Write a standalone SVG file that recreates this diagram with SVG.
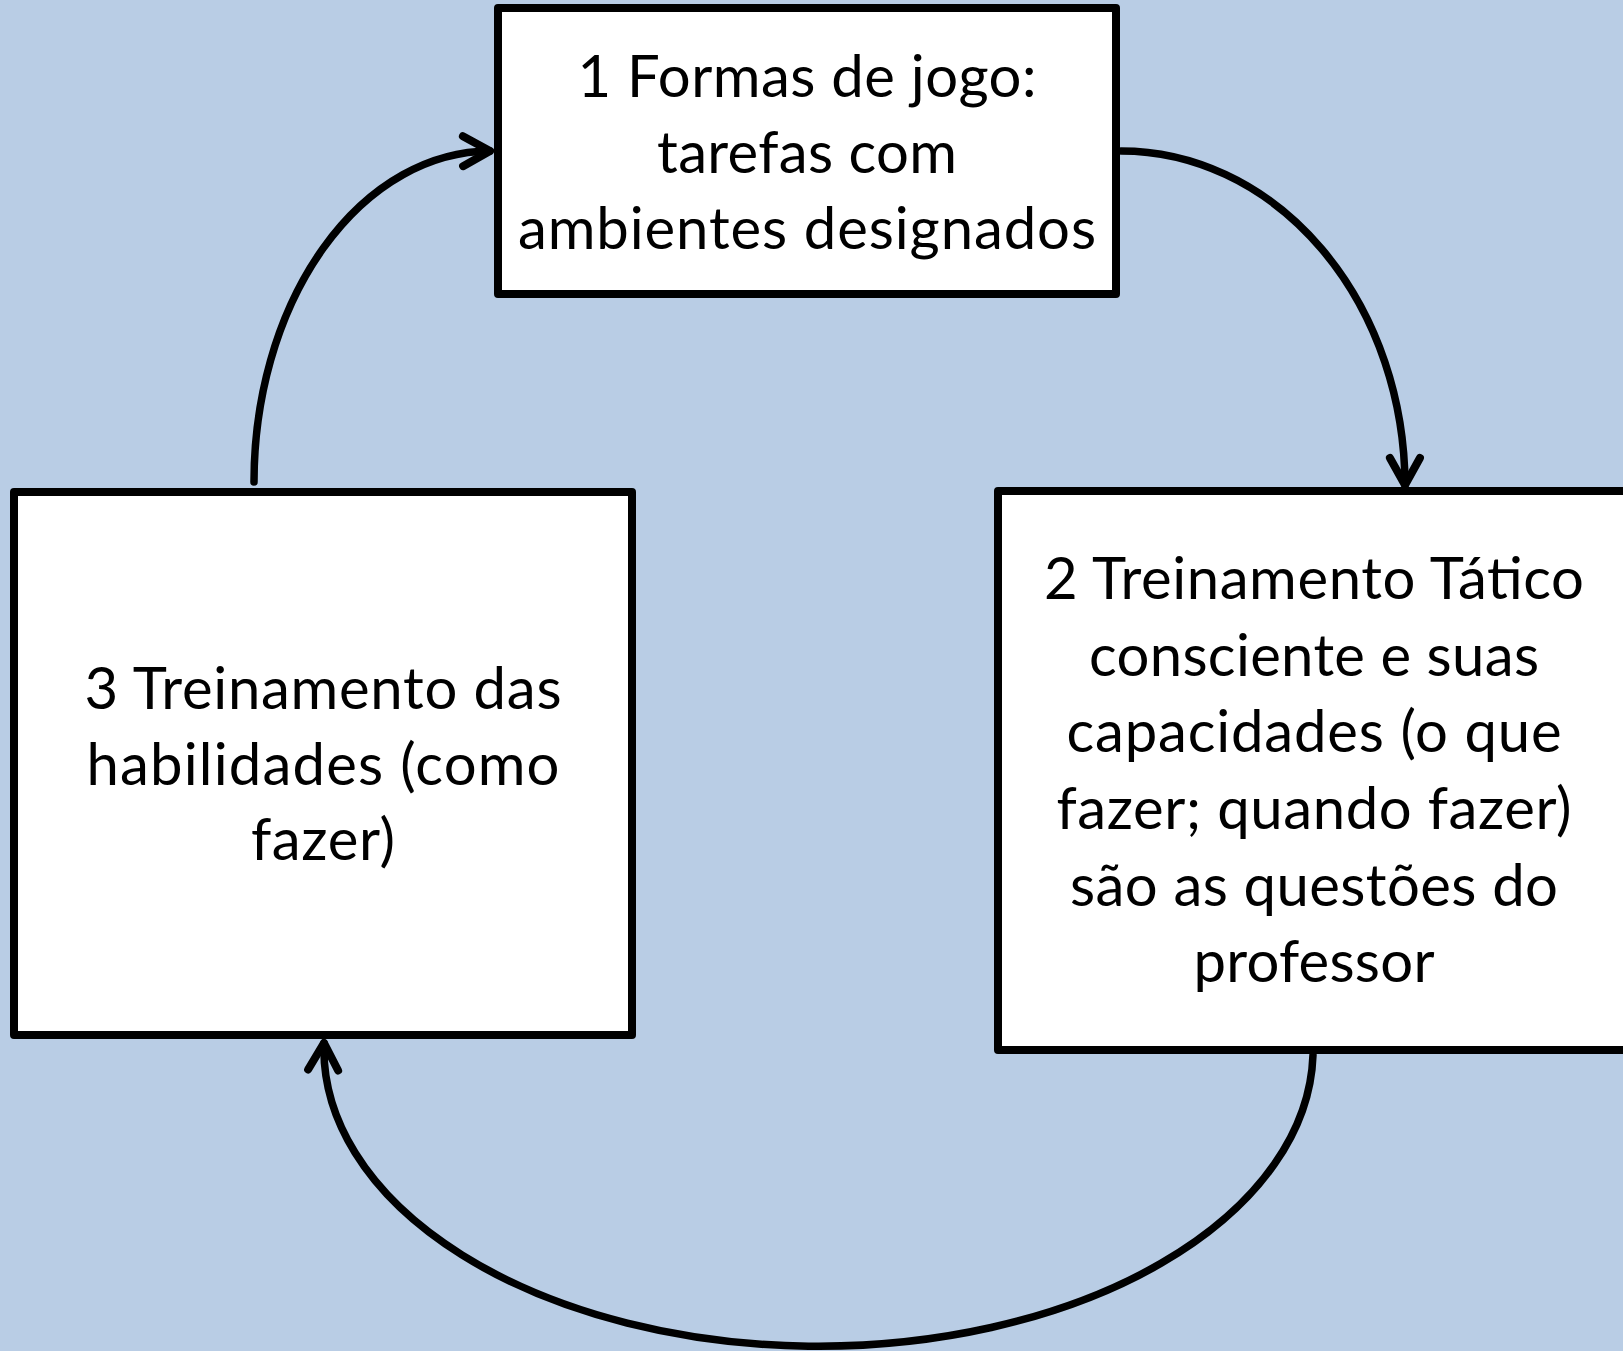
<svg xmlns="http://www.w3.org/2000/svg" width="1623" height="1351" viewBox="0 0 1623 1351">
<style>
.box{fill:#ffffff;stroke:#000000;stroke-width:8;stroke-linejoin:round}
.lbl{font-family:Lato,"Open Sans","Liberation Sans",sans-serif;font-size:58px;fill:#000000;text-anchor:middle}
.conn{fill:none;stroke:#000000;stroke-width:7.5;stroke-linecap:round}
</style>
<defs>
<marker id="arr" markerUnits="userSpaceOnUse" viewBox="-36 -24 44 48" refX="0" refY="0" markerWidth="44" markerHeight="48" orient="auto">
<path d="M -27 -15 L 0 0 L -27 15" fill="none" stroke="#000000" stroke-width="8" stroke-linecap="round" stroke-linejoin="round"/>
</marker>
</defs>
<rect x="0" y="0" width="1623" height="1351" fill="#B9CDE5"/>
<g id="connectors">
<path class="conn" d="M 1121 151 A 284 335 0 0 1 1405 485" marker-end="url(#arr)"/>
<path class="conn" d="M 1313 1055 A 494 297 0 0 1 324 1043" marker-end="url(#arr)"/>
<path class="conn" d="M 254 482 A 237 331 0 0 1 490 151" marker-end="url(#arr)"/>
</g>
<g id="node1">
<rect class="box" x="498" y="8" width="618" height="286"/>
<text class="lbl" x="807" y="97" textLength="459">1 Formas de jogo:</text>
<text class="lbl" x="807" y="173" textLength="300">tarefas com</text>
<text class="lbl" x="807" y="249" textLength="578">ambientes designados</text>
</g>
<g id="node2">
<rect class="box" x="998" y="491" width="640" height="559"/>
<text class="lbl" x="1314" y="599" textLength="540">2 Treinamento Tático</text>
<text class="lbl" x="1314" y="676" textLength="450">consciente e suas</text>
<text class="lbl" x="1314" y="752" textLength="495">capacidades (o que</text>
<text class="lbl" x="1314" y="829" textLength="515">fazer; quando fazer)</text>
<text class="lbl" x="1314" y="906" textLength="488">são as questões do</text>
<text class="lbl" x="1314" y="982" textLength="241">professor</text>
</g>
<g id="node3">
<rect class="box" x="14" y="492" width="618" height="543"/>
<text class="lbl" x="323" y="709" textLength="477">3 Treinamento das</text>
<text class="lbl" x="323" y="785" textLength="473">habilidades (como</text>
<text class="lbl" x="323" y="860" textLength="144">fazer)</text>
</g>
</svg>
